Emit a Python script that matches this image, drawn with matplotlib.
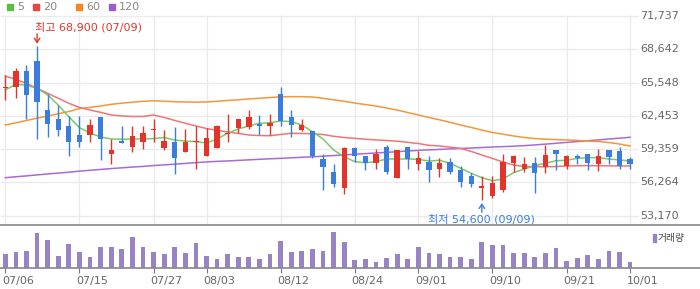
import matplotlib
matplotlib.use("Agg")
import matplotlib.pyplot as plt
import matplotlib.transforms as mtransforms
from matplotlib.patches import Rectangle

plt.rcParams['font.family'] = ['DejaVu Sans', 'Noto Sans CJK KR']

# daily candles (07/06 .. 10/01)
opens = [65000, 65100, 66600, 67500, 63000, 62200, 61500, 60700, 60700, 62300,
         58900, 60100, 59600, 60000, 61100, 59500, 60000, 59100, 60000, 58700,
         59500, 60800, 61300, 61400, 61700, 61500, 64500, 62300, 61100, 61000,
         58400, 57200, 55700, 59500, 58700, 58100, 59600, 56700, 59600, 58000,
         58200, 57500, 58200, 57400, 56900, 55700, 55000, 55600, 58100, 57500,
         58100, 57700, 59300, 57800, 58700, 58900, 58000, 59300, 59200, 58400]
closes = [65100, 66600, 64400, 63700, 61700, 61100, 60000, 60000, 61600, 60300,
          59300, 59900, 60600, 60900, 61200, 60100, 58500, 60000, 60100, 60400,
          61500, 60900, 62200, 62300, 61500, 61800, 62000, 61600, 61600, 58700,
          57700, 56100, 59500, 58700, 58100, 58900, 57200, 59300, 58400, 58500,
          57400, 58100, 57200, 56300, 56100, 55900, 56200, 58200, 58700, 58000,
          57100, 58800, 58900, 58700, 58500, 58100, 58700, 58600, 57800, 58000]
highs = [66200, 66900, 67200, 68900, 64500, 63500, 62400, 62400, 62200, 62300,
         60300, 61500, 61500, 61500, 62200, 61100, 61400, 61200, 61500, 61300,
         61600, 62600, 62200, 63000, 62500, 62600, 65100, 63000, 62200, 61000,
         58900, 58000, 59600, 59600, 58700, 59400, 59700, 59300, 59600, 59200,
         58700, 58500, 58500, 57800, 57100, 56900, 56900, 58900, 58800, 58600,
         58600, 59700, 59300, 58800, 58900, 58900, 59400, 59300, 59600, 58600]
lows = [63900, 64100, 62200, 60300, 60500, 60600, 58700, 59600, 60000, 58300,
        58000, 59900, 59100, 59400, 60000, 59300, 57000, 59100, 57500, 58700,
        59500, 60000, 60900, 61200, 60700, 60700, 61500, 60500, 61000, 58500,
        55600, 55800, 55200, 58200, 57400, 57500, 57000, 56700, 57500, 57400,
        56300, 56800, 57000, 55800, 55800, 54600, 54800, 55400, 57200, 57200,
        55300, 57100, 57400, 57500, 58000, 57400, 57300, 58000, 57500, 57500]
volumes = [410, 490, 520, 1060, 850, 370, 730, 490, 340, 640,
           640, 580, 940, 640, 490, 430, 640, 460, 760, 370,
           280, 430, 340, 340, 280, 430, 820, 490, 520, 580,
           520, 1090, 790, 250, 280, 190, 310, 430, 280, 640,
           460, 430, 340, 340, 280, 790, 700, 700, 460, 460,
           340, 460, 610, 220, 310, 400, 280, 520, 490, 190]

# moving averages
ma5 = [64850, 65400, 65300, 65000, 64400, 63450, 62370, 61350, 60860, 60480,
       60300, 60270, 60300, 60300, 60330, 60440, 60200, 60110, 60050, 59930,
       60300, 60830, 61230, 61510, 61760, 61810, 61970, 61910, 61600, 60980,
       60300, 59280, 58650, 58190, 58100, 58190, 58440, 58440, 58440, 58410,
       58250, 58320, 58040, 57580, 57110, 56700, 56420, 56580, 57170, 57510,
       57820, 58040, 58280, 58320, 58500, 58560, 58560, 58440, 58350, 58250]
ma20 = [66150, 65830, 65470, 65010, 64550, 64080, 63620, 63230, 62990, 62780,
        62530, 62440, 62390, 62390, 62530, 62300, 62020, 61760, 61510, 61270,
        61110, 60950, 60810, 60670, 60620, 60600, 60720, 60830, 60810, 60780,
        60720, 60550, 60440, 60360, 60280, 60210, 60160, 60090, 59990, 59880,
        59710, 59650, 59540, 59420, 59140, 58810, 58490, 58160, 57880, 57740,
        57720, 57720, 57740, 57790, 57810, 57820, 57810, 57800, 57790, 57790]
ma60 = [61600, 61800, 62020, 62230, 62440, 62640, 62850, 63130, 63240, 63360,
        63520, 63630, 63720, 63800, 63850, 63810, 63760, 63740, 63720, 63740,
        63800, 63880, 63940, 64020, 64080, 64150, 64220, 64230, 64230, 64200,
        64080, 63940, 63800, 63640, 63500, 63360, 63180, 62990, 62760, 62530,
        62300, 62080, 61850, 61600, 61370, 61130, 60900, 60740, 60580, 60440,
        60340, 60280, 60240, 60210, 60170, 60110, 60060, 59970, 59830, 59650]
ma120 = [56700, 56790, 56870, 56960, 57050, 57130, 57210, 57310, 57390, 57470,
         57550, 57620, 57690, 57750, 57830, 57890, 57960, 58030, 58100, 58170,
         58220, 58260, 58310, 58360, 58410, 58460, 58500, 58550, 58600, 58640,
         58700, 58760, 58820, 58880, 58940, 59000, 59060, 59120, 59180, 59240,
         59290, 59330, 59380, 59420, 59460, 59510, 59550, 59590, 59630, 59680,
         59750, 59820, 59900, 59980, 60060, 60140, 60210, 60300, 60370, 60460]

tick_pos = [0, 7, 14, 19, 26, 33, 39, 46, 53, 59]
tick_labels = ['07/06', '07/15', '07/27', '08/03', '08/12', '08/24', '09/01', '09/10', '09/21', '10/01']
price_ticks = [53170, 56264, 59359, 62453, 65548, 68642, 71737]
high_date = '07/09'
low_date = '09/09'

RED = '#e3342b'
BLUE = '#3b7ddd'
GRID = '#ebebeb'

fig = plt.figure(figsize=(7, 2.89), dpi=100)
ax = fig.add_axes([0, 1 - 225 / 289, 1, 210 / 289])
axv = fig.add_axes([0, 1 - 268 / 289, 1, 43 / 289])

n = len(closes)
idx = list(range(n))
xmax_plot = 59.75

# price panel
ax.set_xlim(-0.5, 65.6)
ax.set_ylim(52306, 71821)
ax.hlines(price_ticks, -0.5, xmax_plot, color=GRID, lw=1, zorder=0)
ax.vlines(tick_pos, 52306, 71821, color=GRID, lw=1, zorder=0)
for s in ax.spines.values():
    s.set_visible(False)
ax.set_xticks([])
ax.set_yticks([])

ax.plot(idx, ma120, color='#a86bd6', lw=1.1, zorder=2)
ax.plot(idx, ma60, color='#f5963a', lw=1.1, zorder=2)
ax.plot(idx, ma20, color='#f07575', lw=1.1, zorder=2)
ax.plot(idx, ma5, color='#7cc96a', lw=1.1, zorder=2)

colors = [RED if c >= o else BLUE for o, c in zip(opens, closes)]
ax.vlines(idx, lows, highs, colors=colors, lw=1, zorder=3)
bottoms = [min(o, c) for o, c in zip(opens, closes)]
heights = [abs(c - o) for o, c in zip(opens, closes)]
ax.bar(idx, heights, bottom=bottoms, width=0.5, color=colors, zorder=4)

trans = mtransforms.blended_transform_factory(ax.transAxes, ax.transData)
for v in price_ticks:
    ax.text(640 / 700, v, f'{v:,}', transform=trans, ha='left', va='center',
            fontsize=8, color='#666')

# high / low markers
hi_i = highs.index(max(highs))
lo_i = lows.index(min(lows))
ax.annotate('', xy=(hi_i, highs[hi_i]), xytext=(0, 9), textcoords='offset points',
            arrowprops=dict(arrowstyle='->,head_length=0.3,head_width=0.2', color=RED,
                            lw=1, shrinkA=0, shrinkB=2))
ax.annotate(f'최고 {highs[hi_i]:,} ({high_date})', xy=(hi_i, highs[hi_i]),
            xytext=(-1.5, 13.5), textcoords='offset points', ha='left', va='center',
            fontsize=8, color=RED)
ax.annotate('', xy=(lo_i, lows[lo_i]), xytext=(0, -8.5), textcoords='offset points',
            arrowprops=dict(arrowstyle='->,head_length=0.3,head_width=0.2', color=BLUE,
                            lw=1, shrinkA=0, shrinkB=2))
ax.annotate(f'최저 {lows[lo_i]:,} ({low_date})', xy=(lo_i, lows[lo_i]),
            xytext=(0, -13.4), textcoords='offset points', ha='center', va='center',
            fontsize=8, color=BLUE)

# volume panel
axv.set_xlim(-0.5, 65.6)
axv.set_ylim(0, 1300)
axv.bar(idx, volumes, width=0.45, color='#9883c5')
for side in ['left', 'right']:
    axv.spines[side].set_visible(False)
for side in ['top', 'bottom']:
    axv.spines[side].set_color('#888')
    axv.spines[side].set_linewidth(1.2)
axv.set_yticks([])
axv.set_xticks(tick_pos)
axv.set_xticklabels(tick_labels)
axv.tick_params(axis='x', length=3.5, width=0.8, color='#777', labelcolor='#666',
                labelsize=8, pad=2)
shift = mtransforms.ScaledTranslation(-3.5 / 100, 0, fig.dpi_scale_trans)
for lbl in axv.get_xticklabels():
    lbl.set_horizontalalignment('left')
    lbl.set_transform(lbl.get_transform() + shift)

# legends
leg_items = [('5', '#5abf3c', 7), ('20', '#e64646', 33), ('60', '#f5871f', 76), ('120', '#9b5ccd', 109)]
for label, col, px in leg_items:
    fig.add_artist(Rectangle((px / 700, 1 - 9.5 / 289), 6 / 700, 6 / 289,
                             transform=fig.transFigure, color=col))
    fig.text((px + 10) / 700, 1 - 6.5 / 289, label, ha='left', va='center',
             fontsize=8, color='#888')

fig.add_artist(Rectangle((652.5 / 700, 1 - 241.5 / 289), 3.5 / 700, 7.5 / 289,
                         transform=fig.transFigure, color='#9883c5'))
fig.text(658 / 700, 1 - 237.5 / 289, '거래량', ha='left', va='center', fontsize=7,
         color='#444', family=['Noto Sans CJK KR', 'DejaVu Sans'])

fig.savefig('out.png', dpi=100)
